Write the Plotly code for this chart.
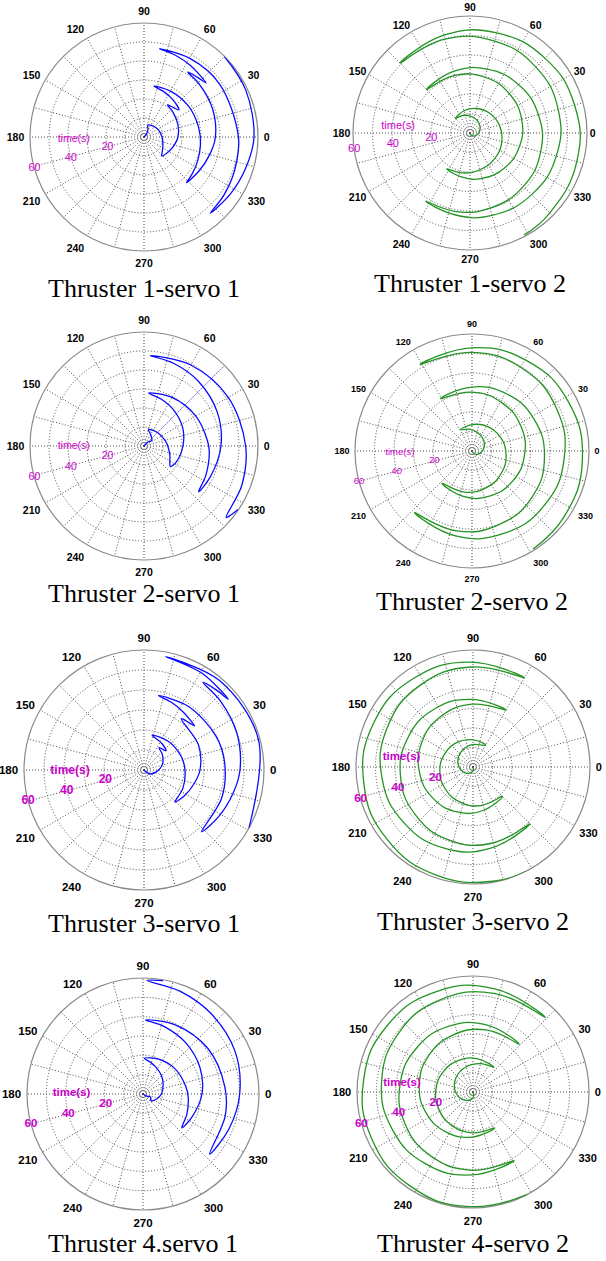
import plotly.graph_objects as go

# ---------------- data: time (s) vs servo angle (deg) ----------------
# Thruster 1 - servo 1
t_t1s1 = [0, 2, 4.5, 6.5, 7.5, 8.5, 9.5, 11, 12.5, 13.7,
          15, 16.5, 17.9, 19, 20.2, 20.9, 21.9, 23.3, 24.8, 26, 27.3,
          27.9, 28.5, 29.2, 30, 31, 32, 32.8,
          34, 35.8, 37.6, 39, 40.3, 41.2, 42.2, 43.3, 44.9, 46.1, 47.2,
          47.9, 48.6, 49.7, 50.8, 52, 53.2,
          54.5, 56, 57.9, 59, 59.9]
a_t1s1 = [40, 50, 62, 72, 50, 25, 0, -25, -40, -47,
          -32, -15, 0, 20, 42, 54, 45, 38, 52, 66, 79,
          60, 35, 10, -8, -25, -38, -47,
          -32, -15, 0, 22, 44, 56, 48, 41, 57, 69, 80,
          60, 35, 0, -20, -36, -49,
          -33, -17, 0, 25, 45]

# Thruster 1 - servo 2
t_t1s2 = [0, 1.5, 3, 4.5, 6, 7.5, 8.8, 9.8, 10.5,
          11.8, 13, 14.3, 15.6, 16.9, 18.2, 19.5, 20.8, 21.9,
          23, 24.1, 25.2, 26.3, 27.4, 28.5, 29.6, 30.6, 31.5,
          32.7, 33.9, 35.1, 36.3, 37.5, 38.7, 39.9, 40.9, 41.7,
          42.7, 43.7, 44.7, 45.8, 46.8, 47.8, 48.8, 49.8, 50.7,
          51.9, 53.1, 54.3, 55.5, 56.7, 57.9, 59.2]
a_t1s2 = [-90, -60, -30, 0, 30, 60, 90, 115, 135,
          105, 75, 45, 15, -15, -45, -75, -100, -123,
          -100, -75, -45, -15, 15, 45, 75, 105, 135,
          105, 75, 45, 15, -15, -45, -75, -100, -123,
          -100, -75, -45, -15, 15, 45, 75, 105, 135,
          105, 75, 45, 15, -15, -45, -62]

# Thruster 2 - servo 1
t_t2s1 = [0, 3, 5, 7, 8.9,
          10, 11.5, 12.5, 14.5, 16, 17.6,
          19, 20.5, 22.5, 24.5, 26.3, 28,
          29.5, 31.5, 33.5, 34.5, 36, 37.5,
          38.5, 40.5, 42.5, 44.5, 46.2, 47.7,
          49.2, 51.2, 53.5, 55.5, 57.3,
          58.5, 59.7]
a_t2s1 = [20, 45, 35, 60, 75,
          45, 15, 0, -20, -32, -38,
          -25, 0, 25, 50, 70, 85,
          60, 30, 5, -5, -25, -40,
          -25, 0, 25, 50, 70, 86,
          60, 30, 0, -22, -41,
          -38, -34]
# straight trace along 45 deg seen in the Thruster 2 - servo 1 record
t_t2s1_ray = [0, 59.6]
a_t2s1_ray = [45, 45]

# Thruster 2 - servo 2
t_t2s2 = [0, 2, 4, 6, 8, 10, 11.3, 12.4,
          13.6, 14.9, 16.2, 17.5, 18.8, 20.1, 21.4, 22.6,
          23.7, 24.8, 25.9, 27, 28.1, 29.1, 30.2, 31.3,
          32.8, 34.3, 35.8, 37.3, 38.8, 40.2, 41.7, 43.2,
          44.3, 45.3, 46.4, 47.4, 48.5, 49.6, 50.6, 51.7,
          52.9, 54.2, 55.5, 56.8, 58, 59.2]
a_t2s2 = [-80, -50, -20, 10, 40, 75, 97, 118,
          88, 57, 26, -5, -36, -67, -100, -133,
          -101, -69, -37, -5, 27, 58, 90, 121,
          90, 58, 27, -5, -37, -69, -101, -133,
          -101, -69, -37, -5, 27, 58, 90, 121,
          90, 58, 27, -5, -35, -58]

# Thruster 3 - servo 1
t_t3s1 = [0, 2, 4, 6, 8, 10, 12, 13.5, 14.6, 16, 17.9,
          18.8, 19.8, 20.5, 21.5, 22.3,
          24, 26, 28, 30, 31.7, 32.6, 33.5, 35, 36.5, 37.9,
          38.8, 39.8, 40.5, 41.3, 42.2,
          44, 46, 48, 50, 51.5, 52.8, 53.9, 55, 56.4, 57.7,
          58.5, 59.2, 60]
a_t3s1 = [0, -40, -30, -10, 5, 20, 40, 56, 41, 56, 77,
          50, 20, 0, -25, -46,
          -32, -15, 0, 25, 54, 47, 41, 56, 68, 79,
          55, 25, 5, -20, -47,
          -32, -15, 0, 22, 42, 56, 48, 40, 59, 79,
          50, 15, -29]

# Thruster 3 - servo 2
t_t3s2 = [0, 2, 4, 6, 8, 9.8, 11.4, 12.9,
          13.9, 15, 16, 17.1, 18.1, 19.2, 20.2, 21.3,
          22.9, 24.4, 26, 27.5, 29.1, 30.7, 32.2, 33.8,
          34.7, 35.7, 36.6, 37.5, 38.4, 39.4, 40.3, 41.2,
          42.6, 44.1, 45.5, 47, 48.4, 49.9, 51.3, 52.8,
          53.8, 54.7, 55.7, 56.6, 57.6, 58.6, 59.5, 60]
a_t3s2 = [300, 270, 235, 200, 165, 130, 95, 60,
          90, 122, 154, 186, 218, 250, 282, 315,
          283, 251, 219, 187, 155, 123, 91, 60,
          92, 124, 156, 188, 220, 252, 284, 315,
          283, 251, 219, 187, 155, 123, 91, 60,
          92, 124, 156, 188, 220, 252, 280, 297]

# Thruster 4 - servo 1
t_t4s1 = [0, 2.5, 4, 5.5,
          7.5, 9.5, 11.5, 13.5, 15.5, 17, 18.5,
          19.8, 21, 22.5, 23.5, 25, 26.6,
          28, 30.5, 32.5, 34.5, 36.5, 38.3,
          39.5, 41, 42.5, 44, 46.4,
          48, 50, 52.5, 54.5, 56.5, 58.8, 59.5]
a_t4s1 = [0, -30, -20, -40,
          -20, 0, 25, 45, 65, 78, 88,
          65, 40, 10, -5, -25, -41,
          -25, 0, 25, 50, 72, 88,
          65, 35, 5, -15, -42,
          -22, 0, 25, 50, 70, 88, 80]

# Thruster 4 - servo 2
t_t4s2 = [0, 3, 6, 9, 11.5, 13.5, 15.2, 16.7,
          17.3, 17.9, 18.6, 19.2, 19.8, 20.5, 21.1, 21.7,
          23.3, 24.9, 26.5, 28, 29.6, 31.2, 32.8, 34.4,
          35.3, 36.2, 37, 37.9, 38.8, 39.6, 40.5, 41.4,
          42.9, 44.5, 46, 47.6, 49.1, 50.6, 52.2, 53.7,
          54.5, 55.3, 56.1, 56.9, 57.7, 58.5, 59.3, 60]
a_t4s2 = [310, 270, 225, 180, 140, 105, 75, 50,
          82, 113, 145, 176, 207, 238, 270, 301,
          269, 237, 205, 173, 141, 110, 78, 46,
          78, 110, 142, 173, 205, 237, 269, 301,
          269, 237, 205, 173, 141, 110, 78, 46,
          78, 110, 142, 173, 205, 237, 268, 298]

# axis ticks
ANGLE_TICKS = list(range(0, 360, 15))
ANGLE_LABELS = [str(v) if v % 30 == 0 else "" for v in ANGLE_TICKS]
RADIAL_RINGS = [10, 20, 30, 40, 50, 60]
TIME_LABELS = [20, 40, 60]

# ---------------- layout of the eight dials ----------------
W, H = 606, 1261
BLUE = "#0a0aff"
GREEN = "#249424"
MAGENTA = "#cc00cc"
GRID = "#4a4a4a"
DOTS = "1px,2px"

panels = [
    # title, t, angle, colour, cx, cy, R, title_y, tick size, tick pad,
    # label size, bold labels, label angle, time(s) angle, smoothing
    ("Thruster 1-servo 1", t_t1s1, a_t1s1, BLUE, 144, 137, 114, 289, 10.5, 3, 10.5, False, 196, 182, 1.0),
    ("Thruster 1-servo 2", t_t1s2, a_t1s2, GREEN, 470, 133, 117, 283, 10.5, 0, 11, False, 188, 175, 1.3),
    ("Thruster 2-servo 1", t_t2s1, a_t2s1, BLUE, 144, 446, 114, 593, 10.5, 3, 10.5, False, 196, 180, 1.0),
    ("Thruster 2-servo 2", t_t2s2, a_t2s2, GREEN, 472, 451, 117, 601, 9, 3, 9.5, False, 195, 181, 1.3),
    ("Thruster 3-servo 1", t_t3s1, a_t3s1, BLUE, 144, 770, 120, 924, 11.5, 3, 12, True, 195, 181, 1.0),
    ("Thruster 3-servo 2", t_t3s2, a_t3s2, GREEN, 473, 767, 117, 921, 11, 3, 11.5, True, 196, 172, 1.3),
    ("Thruster 4.servo 1", t_t4s1, a_t4s1, BLUE, 143, 1094, 116, 1243, 11.5, 3, 11.5, True, 195, 179, 1.0),
    ("Thruster 4-servo 2", t_t4s2, a_t4s2, GREEN, 473, 1092, 116, 1243, 11, 3, 11.5, True, 196, 173, 1.3),
]

fig = go.Figure()
layout = {}
annotations = []

for i, (title, t, ang, col, cx, cy, R, ty, tsz, tpad, lsz, bold, lab_ang, ts_ang, smooth) in enumerate(panels):
    key = "polar" if i == 0 else f"polar{i + 1}"

    layout[key] = dict(
        domain=dict(x=[(cx - R) / W, (cx + R) / W],
                    y=[1 - (cy + R) / H, 1 - (cy - R) / H]),
        bgcolor="white",
        angularaxis=dict(
            rotation=0, direction="counterclockwise",
            tickmode="array", tickvals=ANGLE_TICKS, ticktext=ANGLE_LABELS,
            showgrid=True, gridcolor=GRID, gridwidth=1, griddash=DOTS,
            showline=True, linecolor="#8a8a8a", linewidth=1.2,
            ticks="outside" if tpad else "", ticklen=tpad,
            tickcolor="rgba(0,0,0,0)",
            layer="below traces",
            tickfont=dict(family="Liberation Sans, Arial", size=tsz,
                          color="black", weight="bold"),
        ),
        radialaxis=dict(
            range=[0, 60], tickmode="array", tickvals=RADIAL_RINGS,
            showticklabels=False, ticks="", showline=False,
            showgrid=True, gridcolor=GRID, gridwidth=1, griddash=DOTS,
            layer="below traces",
        ),
    )

    if title == "Thruster 2-servo 1":
        fig.add_trace(go.Scatterpolar(
            r=t_t2s1_ray, theta=a_t2s1_ray, mode="lines", subplot=key,
            line=dict(color="#7a7aff", width=0.8), opacity=0.7,
            showlegend=False, hoverinfo="skip"))

    fig.add_trace(go.Scatterpolar(
        r=t, theta=ang, mode="lines", subplot=key,
        line=dict(color=col, width=1.3, shape="spline", smoothing=smooth),
        showlegend=False))

    lab_font = dict(family="Liberation Sans, Arial", size=lsz, color=MAGENTA,
                    weight="bold" if bold else "normal")
    fig.add_trace(go.Scatterpolar(
        r=TIME_LABELS, theta=[lab_ang] * len(TIME_LABELS), mode="text",
        text=[str(v) for v in TIME_LABELS], textfont=lab_font,
        subplot=key, showlegend=False, hoverinfo="skip"))
    fig.add_trace(go.Scatterpolar(
        r=[37], theta=[ts_ang], mode="text", text=["time(s)"],
        textfont=lab_font, subplot=key, showlegend=False, hoverinfo="skip"))

    annotations.append(dict(
        text=title, x=cx / W, y=1 - ty / H, xref="paper", yref="paper",
        xanchor="center", yanchor="middle", showarrow=False,
        font=dict(family="Liberation Serif, Times New Roman", size=26, color="black")))

fig.update_layout(
    width=W, height=H, margin=dict(l=0, r=0, t=0, b=0),
    paper_bgcolor="white", plot_bgcolor="white",
    annotations=annotations, **layout)

fig.write_html("out.html")
